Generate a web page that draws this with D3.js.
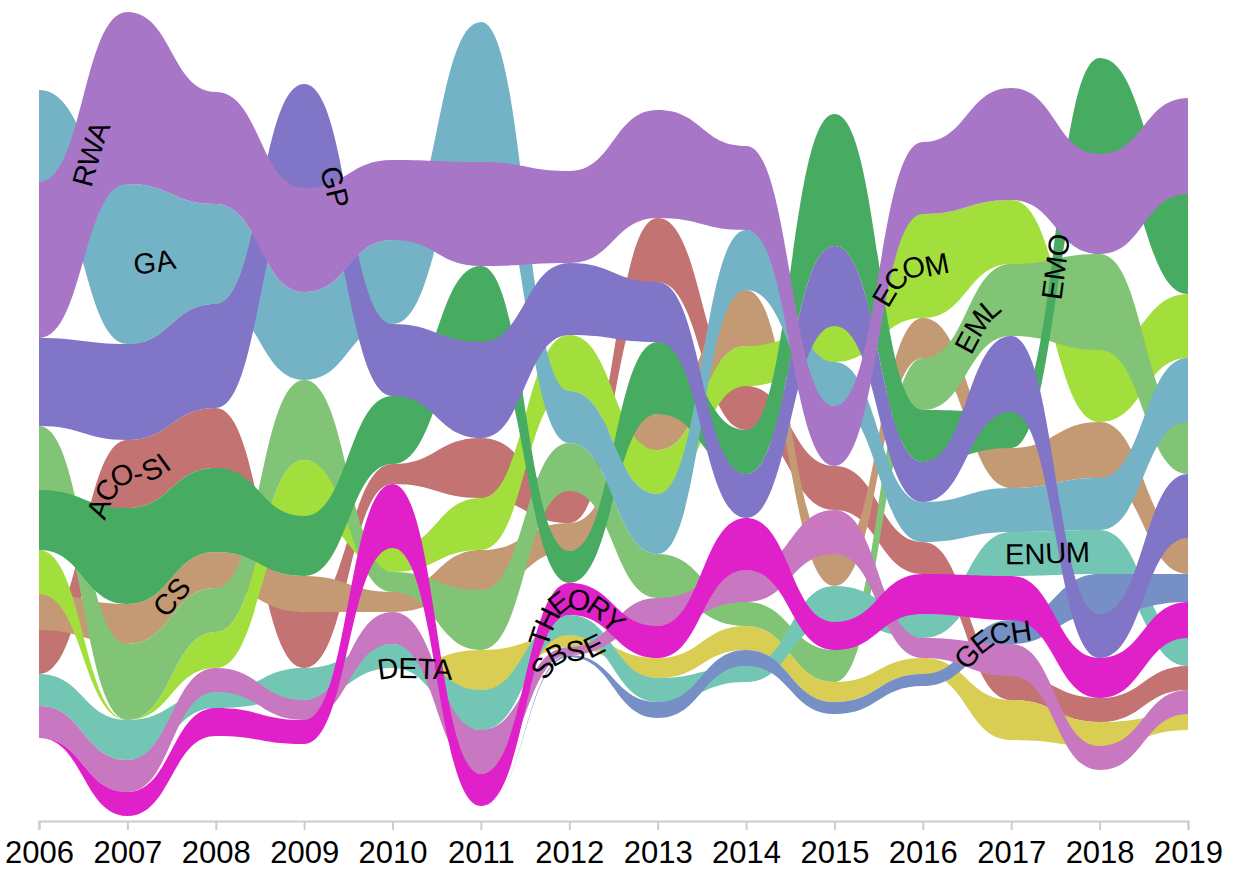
<!DOCTYPE html>
<html lang="en">
<head>
<meta charset="UTF-8">
<title>GECCO tracks 2006-2019</title>
<script src="https://d3js.org/d3.v7.min.js"></script>
<style>
  body { margin: 0; background: #fff; }
  .label { font: 29px "Liberation Sans", Arial, sans-serif; fill: #000; }
  .axis text { font: 31px "Liberation Sans", Arial, sans-serif; fill: #000; }
  .axis path, .axis line { stroke: #ccc; stroke-width: 2px; }
</style>
</head>
<body>
<script>
const years = [2006, 2007, 2008, 2009, 2010, 2011, 2012, 2013, 2014, 2015, 2016, 2017, 2018, 2019];

const trackNames = ["ACO-SI", "CS", "DETA", "ECOM", "EML", "EMO", "ENUM", "GA", "GECH", "GP", "RWA", "SBSE", "THEORY"];
const trackColors = ["#c47373", "#c49a74", "#d9cd53", "#a3df3c", "#82c476", "#47ab62", "#74c6b4",
                     "#74b3c6", "#7690c6", "#8075c6", "#a776c6", "#c877c1", "#e020c8"];

// papers per track and year (2006 .. 2019)
const acoSi  = [11, 17, 15, 14,  5, 15,  8, 16, 11, 11,  8,  6,  6,  6];
const cs     = [ 9, 10,  9,  9,  5, 10,  7,  9, 14,  8, 10, 10, 14,  9];
const deta   = [ 0,  0,  0,  0,  0, 10,  3,  5,  6,  5,  4, 10,  6,  4];
const ecom   = [11,  0,  9, 14,  6, 13, 14, 11, 10,  9, 26, 16, 18, 16];
const eml    = [16, 19, 11, 20,  5, 15, 12, 11,  6,  8, 13, 18, 24, 13];
const emo    = [15, 24, 21, 15, 17, 19,  8, 18, 11, 33, 13,  9, 24, 25];
const enumT  = [ 8, 10,  4,  8,  6, 10,  5,  6,  4,  9,  6, 11, 11,  7];
const ga     = [23, 40, 25, 22, 21, 35, 13, 15, 15, 11, 10, 11, 13, 16];
const gech   = [ 0,  0,  0,  0,  0,  0, 0.5, 4,  4,  3,  3,  6, 10,  7];
const gp     = [22, 24, 26, 26, 18, 24, 18, 15, 11, 20, 10, 19, 11, 16];
const rwa    = [39, 43, 28, 26, 20, 26, 23, 27, 21, 15, 18, 28, 25, 24];
const sbse   = [ 8,  8,  6,  5,  8, 11,  2,  7,  8, 11,  5,  8,  6,  6];
const theory = [ 0,  6,  7,  6, 16,  8,  8,  8, 13,  7, 10, 11, 10,  9];

// stacking order of the tracks in each year, top to bottom
const order2006 = ["GA", "RWA", "GP", "EML", "EMO", "ECOM", "CS", "ACO-SI", "ENUM", "SBSE", "THEORY", "DETA", "GECH"];
const order2007 = ["RWA", "GA", "GP", "ACO-SI", "EMO", "CS", "EML", "ECOM", "ENUM", "SBSE", "THEORY", "DETA", "GECH"];
const order2008 = ["RWA", "GA", "GP", "ACO-SI", "EMO", "CS", "EML", "ECOM", "SBSE", "ENUM", "THEORY", "DETA", "GECH"];
const order2009 = ["GP", "RWA", "GA", "EML", "ECOM", "EMO", "CS", "ACO-SI", "ENUM", "SBSE", "THEORY", "DETA", "GECH"];
const order2010 = ["RWA", "GA", "GP", "EMO", "ACO-SI", "THEORY", "ECOM", "EML", "CS", "SBSE", "ENUM", "DETA", "GECH"];
const order2011 = ["GA", "RWA", "EMO", "GP", "ACO-SI", "ECOM", "CS", "EML", "DETA", "ENUM", "SBSE", "THEORY", "GECH"];
const order2012 = ["RWA", "GP", "ECOM", "GA", "EML", "ACO-SI", "CS", "EMO", "THEORY", "ENUM", "DETA", "SBSE", "GECH"];
const order2013 = ["RWA", "ACO-SI", "GP", "EMO", "CS", "ECOM", "GA", "EML", "SBSE", "THEORY", "DETA", "ENUM", "GECH"];
const order2014 = ["RWA", "GA", "CS", "ECOM", "ACO-SI", "EMO", "GP", "THEORY", "SBSE", "EML", "DETA", "GECH", "ENUM"];
const order2015 = ["EMO", "GP", "ECOM", "GA", "RWA", "ACO-SI", "SBSE", "CS", "ENUM", "THEORY", "EML", "DETA", "GECH"];
const order2016 = ["RWA", "ECOM", "CS", "EML", "EMO", "GP", "GA", "ACO-SI", "THEORY", "ENUM", "SBSE", "DETA", "GECH"];
const order2017 = ["RWA", "ECOM", "EML", "GP", "EMO", "CS", "GA", "ENUM", "THEORY", "GECH", "SBSE", "ACO-SI", "DETA"];
const order2018 = ["EMO", "RWA", "EML", "ECOM", "CS", "GA", "ENUM", "GECH", "GP", "THEORY", "ACO-SI", "DETA", "SBSE"];
const order2019 = ["RWA", "EMO", "ECOM", "GA", "EML", "GP", "CS", "GECH", "THEORY", "ENUM", "ACO-SI", "SBSE", "DETA"];

// where each name is written along its ribbon (fractional year)
const labelAt = {
  "RWA": 2006.58, "GA": 2007.3, "GP": 2009.35, "ACO-SI": 2006.92, "CS": 2007.5, "DETA": 2010.25,
  "THEORY": 2012.0, "SBSE": 2011.95, "ECOM": 2015.8, "EML": 2016.6, "EMO": 2017.5,
  "ENUM": 2017.4, "GECH": 2016.75
};

const seriesValues = [acoSi, cs, deta, ecom, eml, emo, enumT, ga, gech, gp, rwa, sbse, theory];
const orders = [order2006, order2007, order2008, order2009, order2010, order2011, order2012,
                order2013, order2014, order2015, order2016, order2017, order2018, order2019];

const width = 1234, height = 870;
const svg = d3.select("body").append("svg")
    .attr("width", width)
    .attr("height", height);

const x = d3.scaleLinear().domain([2006, 2019]).range([39, 1188]);

const totals = years.map((yr, i) => d3.sum(seriesValues, s => s[i]));
const maxTotal = d3.max(totals);
const y = d3.scaleLinear().domain([-maxTotal / 2, maxTotal / 2]).range([816, 12]);

// centre every year (silhouette) and stack in the given order
const tracks = trackNames.map((name, k) => ({ name: name, color: trackColors[k], points: [] }));
years.forEach((yr, i) => {
  let top = totals[i] / 2;
  orders[i].forEach(name => {
    const k = trackNames.indexOf(name);
    const v = seriesValues[k][i];
    tracks[k].points.push({ year: yr, hi: top, lo: top - v });
    top -= v;
  });
});

const area = d3.area()
    .x(d => x(d.year))
    .y0(d => y(d.lo))
    .y1(d => y(d.hi))
    .curve(d3.curveBumpX);

const mid = d3.line()
    .x(d => x(d.year))
    .y(d => y((d.hi + d.lo) / 2))
    .curve(d3.curveBumpX);

svg.append("g")
  .selectAll("path")
  .data(tracks)
  .join("path")
    .attr("class", "ribbon")
    .attr("d", d => area(d.points))
    .attr("fill", d => d.color);

const defs = svg.append("defs");
defs.selectAll("path")
  .data(tracks)
  .join("path")
    .attr("id", (d, i) => "mid" + i)
    .attr("d", d => mid(d.points));

// length along a centre line at which it reaches a given x
function offsetAt(node, px) {
  let lo = 0, hi = node.getTotalLength();
  for (let k = 0; k < 40; k++) {
    const m = (lo + hi) / 2;
    if (node.getPointAtLength(m).x < px) lo = m; else hi = m;
  }
  return (lo + hi) / 2;
}

const labels = svg.append("g");
tracks.forEach((t, i) => {
  const node = defs.select("#mid" + i).node();
  labels.append("text")
      .attr("class", "label")
      .attr("dy", "0.35em")
    .append("textPath")
      .attr("href", "#mid" + i)
      .attr("startOffset", offsetAt(node, x(labelAt[t.name])))
      .attr("text-anchor", "middle")
      .text(t.name);
});

svg.append("g")
    .attr("class", "axis")
    .attr("transform", "translate(0,821)")
    .call(d3.axisBottom(x).tickValues(years).tickFormat(d3.format("d")).tickSize(9).tickPadding(11));
</script>
</body>
</html>
